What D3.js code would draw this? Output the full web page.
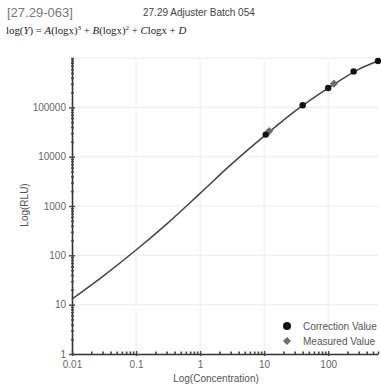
<!DOCTYPE html>
<html>
<head>
<meta charset="utf-8">
<script src="https://cdn.jsdelivr.net/npm/d3@7"></script>
<style>
  body { margin: 0; background: #fff; }
  svg text { font-family: "Liberation Sans", Arial, sans-serif; }
</style>
</head>
<body>
<div id="chart"></div>
<script>
// values
const xTicks = [0.01, 0.1, 1, 10, 100];
const xTickLabels = ['0.01', '0.1', '1', '10', '100'];
const yTicks = [1, 10, 100, 1000, 10000, 100000];
const yTickLabels = ['1', '10', '100', '1000', '10000', '100000'];

// fitted curve, sampled
const curveConc = [0.01, 0.03, 0.1, 0.3, 1, 3, 10, 30, 100, 300, 600];
const curveRlu = [13, 37, 128, 430, 1800, 6800, 26000, 83000, 245000, 590000, 870000];

// Correction Value points
const corrConc = [10.6, 40, 100, 250, 600];
const corrRlu = [28000, 110000, 246000, 535000, 870000];

// Measured Value points
const measConc = [12, 123];
const measRlu = [33000, 302000];

const width = 381, height = 384;
const margin = { left: 72, right: 3, top: 58, bottom: 30 };

const svg = d3.select('#chart').append('svg').attr('width', width).attr('height', height);

const x = d3.scaleLog().domain([0.01, 600]).range([margin.left, width - margin.right]);
const y = d3.scaleLog().domain([1, 1e6]).range([height - margin.bottom, margin.top]);

// header text
svg.append('text').attr('x', 7).attr('y', 17).attr('font-size', 13).attr('fill', '#777').text('[27.29-063]');
svg.append('text').attr('x', 143).attr('y', 16).attr('font-size', 10).attr('fill', '#444').text('27.29 Adjuster Batch 054');
svg.append('text').attr('x', 6).attr('y', 34).attr('font-size', 10.8).attr('fill', '#222')
  .style('font-family', '"Liberation Serif", "DejaVu Serif", serif')
  .html('log(<tspan font-style="italic">Y</tspan>) = <tspan font-style="italic">A</tspan>(logx)<tspan dy="-4" font-size="7">3</tspan><tspan dy="4"> + </tspan><tspan font-style="italic">B</tspan>(logx)<tspan dy="-4" font-size="7">2</tspan><tspan dy="4"> + </tspan><tspan font-style="italic">C</tspan>logx + <tspan font-style="italic">D</tspan>');

// grid
svg.append('g').selectAll('line').data(xTicks.slice(1)).enter().append('line')
  .attr('x1', d => x(d)).attr('x2', d => x(d))
  .attr('y1', y.range()[0]).attr('y2', y.range()[1])
  .attr('stroke', '#ececec').attr('stroke-width', 1);
svg.append('g').selectAll('line').data(yTicks.slice(1).concat([1e6])).enter().append('line')
  .attr('y1', d => y(d)).attr('y2', d => y(d))
  .attr('x1', x.range()[0]).attr('x2', x.range()[1])
  .attr('stroke', '#ececec').attr('stroke-width', 1);

// axes
const xMinor = x.ticks(40);
const yMinor = y.ticks(60);

const xAxis = svg.append('g').attr('transform', 'translate(0,' + y.range()[0] + ')')
  .call(d3.axisBottom(x).tickValues(xMinor).tickSize(0).tickPadding(7)
    .tickFormat(d => { const i = xTicks.indexOf(d); return i >= 0 ? xTickLabels[i] : ''; }));
xAxis.select('.domain').attr('stroke', '#333').attr('stroke-width', 1.6);
xAxis.selectAll('.tick line')
  .attr('y1', d => xTicks.indexOf(d) >= 0 ? -3 : -2.5)
  .attr('y2', d => xTicks.indexOf(d) >= 0 ? 2 : 0)
  .attr('stroke', '#444').attr('stroke-width', d => xTicks.indexOf(d) >= 0 ? 1.4 : 1.6);
xAxis.selectAll('.tick text').attr('font-size', 10).attr('fill', '#666').style('font-family', '"Liberation Sans", Arial, sans-serif');

const yAxis = svg.append('g').attr('transform', 'translate(' + x.range()[0] + ',0)')
  .call(d3.axisLeft(y).tickValues(yMinor).tickSize(0).tickPadding(6)
    .tickFormat(d => { const i = yTicks.indexOf(d); return i >= 0 ? yTickLabels[i] : ''; }));
yAxis.select('.domain').attr('stroke', '#333').attr('stroke-width', 1.6);
yAxis.selectAll('.tick line')
  .attr('x1', d => yTicks.indexOf(d) >= 0 ? -3 : -1)
  .attr('x2', d => yTicks.indexOf(d) >= 0 ? 3 : 2)
  .attr('stroke', '#444').attr('stroke-width', 1.4);
yAxis.selectAll('.tick text').attr('font-size', 10).attr('fill', '#666').style('font-family', '"Liberation Sans", Arial, sans-serif');

// axis titles
svg.append('text').attr('x', 216).attr('y', 382).attr('text-anchor', 'middle')
  .attr('font-size', 10).attr('fill', '#555').text('Log(Concentration)');
svg.append('text').attr('transform', 'translate(28,205) rotate(-90)').attr('text-anchor', 'middle')
  .attr('font-size', 10).attr('fill', '#555').text('Log(RLU)');

// curve
const curvePts = curveConc.map((c, i) => [c, curveRlu[i]]);
const line = d3.line().x(d => x(d[0])).y(d => y(d[1])).curve(d3.curveMonotoneX);
svg.append('path').datum(curvePts).attr('d', line)
  .attr('fill', 'none').attr('stroke', '#444').attr('stroke-width', 1.5);

// measured (diamonds)
const diamond = d3.symbol().type(d3.symbolDiamond2).size(42);
svg.append('g').selectAll('path').data(measConc.map((c, i) => [c, measRlu[i]])).enter().append('path')
  .attr('d', diamond).attr('transform', d => 'translate(' + x(d[0]) + ',' + y(d[1]) + ')')
  .attr('fill', '#6d6d6d');

// correction (circles)
svg.append('g').selectAll('circle').data(corrConc.map((c, i) => [c, corrRlu[i]])).enter().append('circle')
  .attr('cx', d => x(d[0])).attr('cy', d => y(d[1])).attr('r', 3.2)
  .attr('fill', '#111');

// legend
svg.append('circle').attr('cx', 287).attr('cy', 326).attr('r', 4).attr('fill', '#111');
svg.append('path').attr('d', diamond).attr('transform', 'translate(287,341)').attr('fill', '#6d6d6d');
svg.append('text').attr('x', 303).attr('y', 329.5).attr('font-size', 10).attr('fill', '#555').text('Correction Value');
svg.append('text').attr('x', 303).attr('y', 344.5).attr('font-size', 10).attr('fill', '#555').text('Measured Value');
</script>
</body>
</html>
